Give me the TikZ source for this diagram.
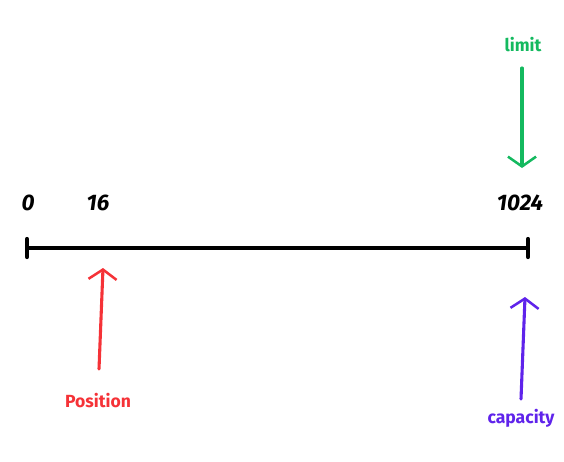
\documentclass[tikz,border=0pt]{standalone}
\usepackage{fontspec}
\setmainfont{Fira Sans}
\usetikzlibrary{arrows.meta}
\definecolor{limitgreen}{RGB}{20, 185, 95}
\definecolor{posred}{RGB}{245, 50, 55}
\definecolor{cappurple}{RGB}{95, 35, 235}

\begin{document}
\begin{tikzpicture}[x=0.025cm, y=-0.025cm,
        value/.style={font=\fontsize{16}{18}\selectfont\bfseries\itshape},
        tag/.style={font=\fontsize{12.5}{14}\selectfont\bfseries},
        pointer/.style={line width=2.2pt, line cap=round, -{Straight Barb[length=7pt, width=20pt, line width=1.8pt]}}]
            \useasboundingbox (0,0) rectangle (564,461);
            % buffer line
            \coordinate (start) at ( 27, 248);
            \coordinate (end)   at (528, 248);
            \draw[line width=3pt] (start) -- (end);
            \draw[line width=3pt, line cap=round] ( 27, 239) -- ( 27, 257);
            \draw[line width=3pt, line cap=round] (528, 239) -- (528, 257);
            % values
            \node[value] (zero)  at ( 28, 203) {0};
            \node[value] (sixt)  at ( 98, 203) {16};
            \node[value] (full)  at (520, 203) {1024};
            % limit
            \node[tag, color=limitgreen] (limit) at (523, 45) {limit};
            \coordinate (limtop) at (522, 68);
            \coordinate (limbot) at (522, 168);
            \draw[pointer, color=limitgreen] (limtop) -- (limbot);
            % position
            \node[tag, color=posred] (position) at (98, 401) {Position};
            \coordinate (postop) at (103, 268);
            \coordinate (posbot) at ( 99, 369);
            \draw[pointer, color=posred] (posbot) -- (postop);
            % capacity
            \node[tag, color=cappurple] (capacity) at (521, 418) {capacity};
            \coordinate (captop) at (525, 297);
            \coordinate (capbot) at (521, 399);
            \draw[pointer, color=cappurple] (capbot) -- (captop);
        \end{tikzpicture}
\end{document}
